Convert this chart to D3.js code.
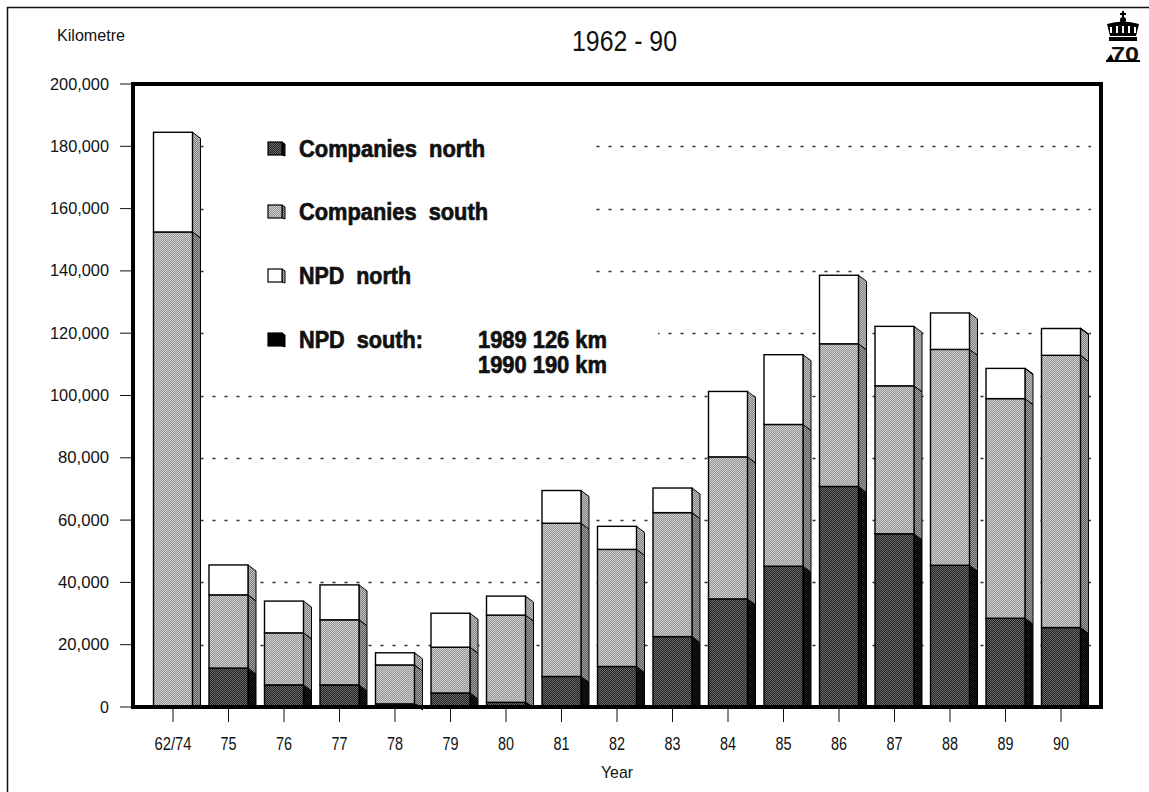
<!DOCTYPE html>
<html>
<head>
<meta charset="utf-8">
<script src="https://cdn.jsdelivr.net/npm/d3@7"></script>
<style>
  html, body { margin: 0; padding: 0; background: #fff; }
  svg { display: block; }
  text { font-family: "Liberation Sans Narrow", "Arial Narrow", "Liberation Sans", Arial, sans-serif; fill: #111; }
</style>
</head>
<body>
<svg id="chart" width="1149" height="792"></svg>
<script>
// Seismic survey kilometres per year, stacked by operator group
const years = ["62/74", "75", "76", "77", "78", "79", "80", "81", "82", "83", "84", "85", "86", "87", "88", "89", "90"];
const companiesNorth = [0, 12500, 7100, 7100, 1000, 4500, 1500, 9800, 13000, 22600, 34700, 45200, 70800, 55600, 45500, 28500, 25500];
const companiesSouth = [152500, 23500, 16700, 20900, 12500, 14700, 28000, 49200, 37600, 39800, 45600, 45500, 45800, 47500, 69300, 70500, 87400];
const npdNorth = [32000, 9600, 10200, 11200, 3900, 10900, 6100, 10500, 7400, 7900, 21000, 22400, 22000, 19100, 11700, 9700, 8600];
const npdSouth = [0, 0, 0, 0, 0, 0, 0, 0, 0, 0, 0, 0, 0, 0, 0, 126, 190];
const yTicks = [0, 20000, 40000, 60000, 80000, 100000, 120000, 140000, 160000, 180000, 200000];
const seriesNames = ["Companies  north", "Companies  south", "NPD  north", "NPD  south:"];
const npdSouthNotes = ["1989 126 km", "1990 190 km"];

const svg = d3.select("#chart");

// Frame geometry
const plot = { left: 133, right: 1101, top: 84, bottom: 707 };
const barW = 39, depthX = 8, depthY = 6;

const y = d3.scaleLinear().domain([0, 200000]).range([plot.bottom, plot.top]);
const x = d3.scalePoint().domain(years).range([173, 1061]);

// Halftone-like textures
const defs = svg.append("defs");
function checker(id, a, b) {
  const p = defs.append("pattern").attr("id", id).attr("patternUnits", "userSpaceOnUse")
    .attr("width", 2).attr("height", 2);
  p.append("rect").attr("width", 2).attr("height", 2).attr("fill", a);
  p.append("rect").attr("width", 1).attr("height", 1).attr("fill", b);
  p.append("rect").attr("x", 1).attr("y", 1).attr("width", 1).attr("height", 1).attr("fill", b);
}
checker("cnFront", "#222222", "#6a6a6a");
checker("cnSide", "#000000", "#1a1a1a");
checker("csFront", "#949494", "#cfcfcf");
checker("csSide", "#5e5e5e", "#a0a0a0");
checker("nnSide", "#828282", "#c0c0c0");

const styles = [
  { front: "url(#cnFront)", side: "url(#cnSide)" },
  { front: "url(#csFront)", side: "url(#csSide)" },
  { front: "#ffffff", side: "url(#nnSide)" },
  { front: "#000000", side: "#000000" }
];

// Outer page frame
svg.append("rect").attr("x", 7.5).attr("y", 7.5).attr("width", 1150).attr("height", 800)
  .attr("fill", "none").attr("stroke", "#111").attr("stroke-width", 1.5);

// Header texts
svg.append("text").attr("x", 57).attr("y", 41).attr("font-size", 16)
  .attr("textLength", 68).attr("lengthAdjust", "spacingAndGlyphs").text("Kilometre");
svg.append("text").attr("x", 572).attr("y", 51).attr("font-size", 29)
  .attr("textLength", 105).attr("lengthAdjust", "spacingAndGlyphs").text("1962 - 90");

// Crown emblem with "70"
const logo = svg.append("g").attr("transform", "translate(1123,0)");
logo.append("rect").attr("x", -1).attr("y", 11).attr("width", 2).attr("height", 8).attr("fill", "#000");
logo.append("rect").attr("x", -3).attr("y", 13).attr("width", 6).attr("height", 2).attr("fill", "#000");
logo.append("circle").attr("cx", 0).attr("cy", 20).attr("r", 3).attr("fill", "#000");
logo.append("path").attr("d", "M-16,24 Q0,19 16,24 L13,36 L-13,36 Z").attr("fill", "#000");
logo.append("path").attr("d", "M-12,27 L-12,33 M-6,26 L-6,33 M0,26 L0,33 M6,26 L6,33 M12,27 L12,33")
  .attr("stroke", "#fff").attr("stroke-width", 2);
logo.append("rect").attr("x", -14).attr("y", 37).attr("width", 28).attr("height", 4).attr("fill", "#000");
logo.append("text").attr("x", -12).attr("y", 61).attr("font-size", 21).attr("font-weight", "bold")
  .attr("textLength", 28).attr("lengthAdjust", "spacingAndGlyphs")
  .attr("font-family", "Liberation Serif, serif").text("70");
logo.append("path").attr("d", "M-17,61 L-12,54 L-9,61 Z").attr("fill", "#000");
logo.append("rect").attr("x", -17).attr("y", 60).attr("width", 34).attr("height", 2).attr("fill", "#000");

// Dotted gridlines (behind bars)
const gridStart = x(years[0]) + barW / 2 + depthX;
svg.append("g").selectAll("line").data(yTicks.filter(d => d > 0 && d < 200000)).join("line")
  .attr("x1", gridStart).attr("x2", plot.right - 10)
  .attr("y1", d => Math.round(y(d)) + 0.5).attr("y2", d => Math.round(y(d)) + 0.5)
  .attr("stroke", "#333").attr("stroke-width", 1.3).attr("stroke-dasharray", "3,9");

// Clear space for the legend block
svg.append("rect").attr("x", 210).attr("y", 125).attr("width", 378).attr("height", 170).attr("fill", "#fff");
svg.append("rect").attr("x", 210).attr("y", 315).attr("width", 448).attr("height", 65).attr("fill", "#fff");

// Stacked 3D bars
const seriesValues = [companiesNorth, companiesSouth, npdNorth, npdSouth];
const rows = years.map((yr, i) => {
  let acc = 0;
  return seriesValues.map((vals, s) => {
    const seg = { year: yr, s, y0: acc, y1: acc + vals[i] };
    acc += vals[i];
    return seg;
  });
});

const bars = svg.append("g");
rows.forEach(segs => {
  const g = bars.append("g");
  const cx = x(segs[0].year);
  const xl = cx - barW / 2, xr = cx + barW / 2;
  segs.filter(d => d.y1 > d.y0).forEach(d => {
    const yt = y(d.y1), yb = y(d.y0);
    // side face, sloping down to the right
    g.append("path")
      .attr("d", `M${xr},${yt} L${xr + depthX},${yt + depthY} L${xr + depthX},${Math.min(yb + depthY, plot.bottom)} L${xr},${yb} Z`)
      .attr("fill", styles[d.s].side).attr("stroke", "#000").attr("stroke-width", 1);
    // front face
    g.append("rect").attr("x", xl).attr("y", yt).attr("width", barW).attr("height", Math.max(yb - yt, 0.6))
      .attr("fill", styles[d.s].front).attr("stroke", "#000").attr("stroke-width", d.s === 3 ? 0 : 1.4);
  });
});

// Plot frame
svg.append("rect").attr("x", plot.left).attr("y", plot.top)
  .attr("width", plot.right - plot.left).attr("height", plot.bottom - plot.top)
  .attr("fill", "none").attr("stroke", "#000").attr("stroke-width", 4);

// Y axis ticks and labels
const yAxis = svg.append("g");
yAxis.selectAll("line").data(yTicks).join("line")
  .attr("x1", 120).attr("x2", plot.left - 2)
  .attr("y1", d => y(d)).attr("y2", d => y(d))
  .attr("stroke", "#111").attr("stroke-width", 1);
yAxis.selectAll("text").data(yTicks).join("text")
  .attr("x", 109).attr("y", d => y(d) + 5.5).attr("text-anchor", "end").attr("font-size", 16)
  .attr("textLength", d => d === 0 ? null : (d >= 100000 ? 59 : 51)).attr("lengthAdjust", "spacingAndGlyphs")
  .text(d => d3.format(",")(d));

// X axis ticks and labels
const xAxis = svg.append("g");
xAxis.selectAll("line").data(years).join("line")
  .attr("x1", d => x(d)).attr("x2", d => x(d))
  .attr("y1", plot.bottom + 2).attr("y2", 722)
  .attr("stroke", "#111").attr("stroke-width", 1);
xAxis.selectAll("text").data(years).join("text")
  .attr("x", d => x(d)).attr("y", 750).attr("text-anchor", "middle").attr("font-size", 18)
  .attr("textLength", d => d.length > 2 ? 37 : 16).attr("lengthAdjust", "spacingAndGlyphs")
  .text(d => d);
svg.append("text").attr("x", 617).attr("y", 778).attr("text-anchor", "middle").attr("font-size", 17)
  .attr("textLength", 32).attr("lengthAdjust", "spacingAndGlyphs").text("Year");

// Legend
const legendRows = [149, 212, 276, 340];
const legendWidths = [186, 189, 112, 124];
const legend = svg.append("g");
seriesNames.forEach((name, s) => {
  const cy = legendRows[s];
  legend.append("path")
    .attr("d", `M282,${cy - 7} L285,${cy - 5} L285,${cy + 7} L282,${cy + 6} Z`)
    .attr("fill", styles[s].side).attr("stroke", "#000").attr("stroke-width", 1);
  legend.append("rect").attr("x", 268).attr("y", cy - 7).attr("width", 14).attr("height", 13)
    .attr("fill", styles[s].front).attr("stroke", "#000").attr("stroke-width", 1.2);
  legend.append("text").attr("x", 299).attr("y", cy + 8).attr("font-size", 24).attr("font-weight", "bold")
    .attr("stroke", "#111").attr("stroke-width", 0.7)
    .style("white-space", "pre").attr("textLength", legendWidths[s]).attr("lengthAdjust", "spacingAndGlyphs")
    .text(name);
});
npdSouthNotes.forEach((t, i) => {
  legend.append("text").attr("x", 478).attr("y", 348 + i * 25).attr("font-size", 24).attr("font-weight", "bold")
    .attr("stroke", "#111").attr("stroke-width", 0.7)
    .attr("textLength", 129).attr("lengthAdjust", "spacingAndGlyphs").text(t);
});
</script>
</body>
</html>
